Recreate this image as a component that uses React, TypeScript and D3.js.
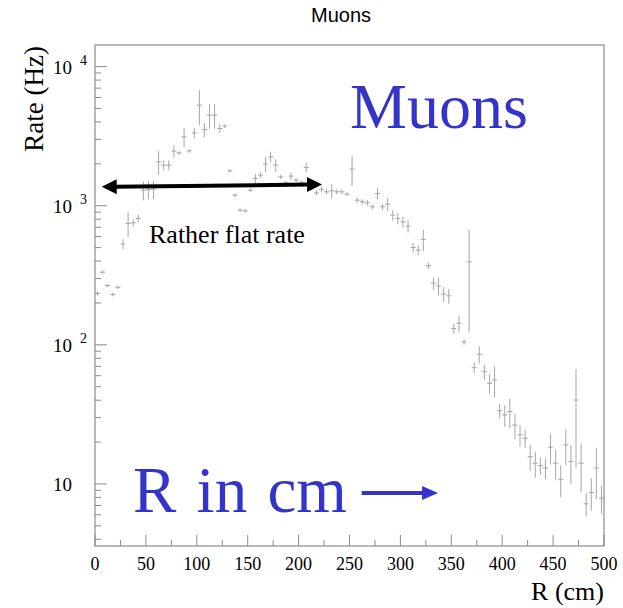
import React from "react";
import * as d3 from "d3";

// Bin centers (cm), 5 cm bins from 0 to 500
const radiusCm = [
  2.5, 7.5, 12.5, 17.5, 22.5, 27.5, 32.5, 37.5, 42.5, 47.5,
  52.5, 57.5, 62.5, 67.5, 72.5, 77.5, 82.5, 87.5, 92.5, 97.5,
  102.5, 107.5, 112.5, 117.5, 122.5, 127.5, 132.5, 137.5, 142.5, 147.5,
  152.5, 157.5, 162.5, 167.5, 172.5, 177.5, 182.5, 187.5, 192.5, 197.5,
  202.5, 207.5, 212.5, 217.5, 222.5, 227.5, 232.5, 237.5, 242.5, 247.5,
  252.5, 257.5, 262.5, 267.5, 272.5, 277.5, 282.5, 287.5, 292.5, 297.5,
  302.5, 307.5, 312.5, 317.5, 322.5, 327.5, 332.5, 337.5, 342.5, 347.5,
  352.5, 357.5, 362.5, 367.5, 372.5, 377.5, 382.5, 387.5, 392.5, 397.5,
  402.5, 407.5, 412.5, 417.5, 422.5, 427.5, 432.5, 437.5, 442.5, 447.5,
  452.5, 457.5, 462.5, 467.5, 472.5, 477.5, 482.5, 487.5, 492.5, 497.5,
];
const binWidth = 5;

const rateHz = [
  234, 333, 267, 230, 259, 530, 746, 754, 811, 1294,
  1309, 1318, 2066, 1958, 1958, 2466, 2398, 3126, 2478, 3340,
  5285, 3523, 4478, 4478, 3592, 3733, 1781, 1191, 930, 919,
  1294, 1571, 1660, 1991, 2245, 1958, 1614, 1460, 1633, 1528,
  1460, 1884, 1450, 1238, 1309, 1259, 1280, 1259, 1259, 1211,
  1833, 1097, 1067, 1050, 982, 1225, 982, 1026, 855, 811,
  766, 713, 501, 480, 573, 370, 277, 265, 232, 225,
  131, 143, 105, 395, 68.5, 85.5, 64.1, 52.9, 55.9, 33.6,
  31.3, 33.1, 26.5, 22.5, 21.3, 15.7, 14.1, 13.5, 13.0, 18.4,
  14.1, 10.8, 19.1, 14.5, 40.1, 14.1, 7.2, 8.7, 13.0, 7.9,
];

const rateErr = [
  8, 10, 8, 7, 8, 45, 150, 45, 50, 200,
  200, 200, 400, 160, 160, 250, 80, 500, 80, 280,
  1500, 400, 900, 900, 250, 120, 50, 40, 30, 30,
  40, 120, 80, 240, 200, 200, 60, 50, 100, 50,
  70, 150, 60, 50, 60, 50, 150, 50, 50, 40,
  450, 50, 50, 50, 40, 110, 50, 110, 75, 75,
  70, 70, 40, 40, 100, 20, 28, 40, 28, 28,
  11, 20, 5, 273, 6, 12, 8, 8, 14, 4,
  5.5, 8, 5.5, 4, 3.2, 3.3, 3.0, 1.9, 2.2, 4.6,
  3.5, 2.8, 5.5, 4.5, 27, 5.4, 1.4, 2.3, 5.2, 1.8,
];

const xMajorTicks = [0, 50, 100, 150, 200, 250, 300, 350, 400, 450, 500];
const xMinorTicks = [25, 75, 125, 175, 225, 275, 325, 375, 425, 475];
const yDecades = [10, 100, 1000, 10000];
const yDecadeExponent = ["", "2", "3", "4"];
const yMinorMultipliers = [2, 3, 4, 5, 6, 7, 8, 9];
const yMinorBases = [1, 10, 100, 1000, 10000];

const W = 623;
const H = 608;
const frame = { left: 95, right: 604, top: 45, bottom: 546 };
const serif = "'Liberation Serif', 'Times New Roman', serif";
const sans = "'Liberation Sans', Arial, sans-serif";
const dataColor = "#a6a6a6";
const axisColor = "#8a8a8a";
const blue = "#3434c8";

export default function App() {
  const x = d3.scaleLinear().domain([0, 500]).range([frame.left, frame.right]);
  const y = d3.scaleLog().domain([3.58, 14300]).range([frame.bottom, frame.top]);
  const [yMin, yMax] = y.domain();

  const minorY: number[] = [];
  yMinorBases.forEach((b) =>
    yMinorMultipliers.forEach((m) => {
      const v = b * m;
      if (v > yMin && v < yMax) minorY.push(v);
    })
  );

  const clampY = (v: number) => Math.max(yMin, Math.min(yMax, v));

  // Annotation arrows in data coordinates
  const blackArrow = { r0: 6.6, v0: 1368, r1: 223, v1: 1422 };
  const blueArrow = { r0: 262, r1: 337, v: 8.6 };

  const bx0 = x(blackArrow.r0), by0 = y(blackArrow.v0);
  const bx1 = x(blackArrow.r1), by1 = y(blackArrow.v1);
  const ang = Math.atan2(by1 - by0, bx1 - bx0);
  const headL = 15, headW = 7.5;
  const head = (tx: number, ty: number, a: number) => {
    const cx = tx - headL * Math.cos(a), cy = ty - headL * Math.sin(a);
    const px = -Math.sin(a) * headW, py = Math.cos(a) * headW;
    return `M${tx},${ty}L${cx + px},${cy + py}L${cx - px},${cy - py}Z`;
  };

  const gx0 = x(blueArrow.r0), gx1 = x(blueArrow.r1), gy = y(blueArrow.v);

  return (
    <svg
      width={W}
      height={H}
      style={{ position: "absolute", left: 0, top: 0, background: "#fff" }}
    >
      <rect x={0} y={0} width={W} height={H} fill="#fff" />
      {/* Title */}
      <text x={341} y={22} textAnchor="middle" fontFamily={sans} fontSize={20} fill="#000">
        Muons
      </text>

      {/* Frame */}
      <rect
        x={frame.left}
        y={frame.top}
        width={frame.right - frame.left}
        height={frame.bottom - frame.top}
        fill="none"
        stroke={axisColor}
        strokeWidth={1.2}
      />

      {/* X ticks */}
      {xMajorTicks.map((t) => (
        <g key={"xm" + t}>
          <line x1={x(t)} x2={x(t)} y1={frame.bottom} y2={frame.bottom - 11} stroke={axisColor} />
          <text x={x(t)} y={570} textAnchor="middle" fontFamily={serif} fontSize={18} fill="#000">
            {t}
          </text>
        </g>
      ))}
      {xMinorTicks.map((t) => (
        <line key={"xn" + t} x1={x(t)} x2={x(t)} y1={frame.bottom} y2={frame.bottom - 6} stroke={axisColor} />
      ))}

      {/* Y ticks */}
      {yDecades.map((d, i) => (
        <g key={"yd" + d}>
          <line x1={frame.left} x2={frame.left + 12} y1={y(d)} y2={y(d)} stroke={axisColor} />
          <text x={72} y={y(d) + 7} textAnchor="end" fontFamily={serif} fontSize={19} fill="#000">
            10
          </text>
          {yDecadeExponent[i] && (
            <text x={80} y={y(d) - 2} fontFamily={serif} fontSize={14} fill="#000">
              {yDecadeExponent[i]}
            </text>
          )}
        </g>
      ))}
      {minorY.map((v) => (
        <line key={"yn" + v} x1={frame.left} x2={frame.left + 6} y1={y(v)} y2={y(v)} stroke={axisColor} />
      ))}

      {/* Axis titles */}
      <text x={604} y={600} textAnchor="end" fontFamily={serif} fontSize={26} fill="#000">
        R (cm)
      </text>
      <text
        transform={`translate(43,46) rotate(-90)`}
        textAnchor="end"
        fontFamily={serif}
        fontSize={27}
        fill="#000"
      >
        Rate (Hz)
      </text>

      {/* Data: histogram with error bars */}
      <g stroke={dataColor} strokeWidth={1} fill="none">
        {radiusCm.map((r, i) => {
          const v = rateHz[i];
          const e = rateErr[i];
          const cx = x(r);
          return (
            <g key={"p" + i}>
              <line
                x1={x(r - binWidth / 2)}
                x2={x(r + binWidth / 2)}
                y1={y(v)}
                y2={y(v)}
              />
              <line x1={cx} x2={cx} y1={y(clampY(v - e))} y2={y(clampY(v + e))} />
            </g>
          );
        })}
      </g>

      {/* Black double arrow */}
      <line
        x1={bx0 + 12 * Math.cos(ang)}
        y1={by0 + 12 * Math.sin(ang)}
        x2={bx1 - 12 * Math.cos(ang)}
        y2={by1 - 12 * Math.sin(ang)}
        stroke="#000"
        strokeWidth={4}
      />
      <path d={head(bx1, by1, ang)} fill="#000" />
      <path d={head(bx0, by0, ang + Math.PI)} fill="#000" />
      <text x={149} y={243} fontFamily={serif} fontSize={26} fill="#000">
        Rather flat rate
      </text>

      {/* Blue annotations */}
      <text x={350} y={128} fontFamily={serif} fontSize={64} fill={blue}>
        Muons
      </text>
      <text x={133} y={512} fontFamily={serif} fontSize={65} fill={blue} wordSpacing={4}>
        R in cm
      </text>
      <line x1={gx0} x2={gx1 - 14} y1={gy} y2={gy} stroke={blue} strokeWidth={4} />
      <path d={`M${gx1},${gy}L${gx1 - 16},${gy - 7}L${gx1 - 16},${gy + 7}Z`} fill={blue} />
    </svg>
  );
}
